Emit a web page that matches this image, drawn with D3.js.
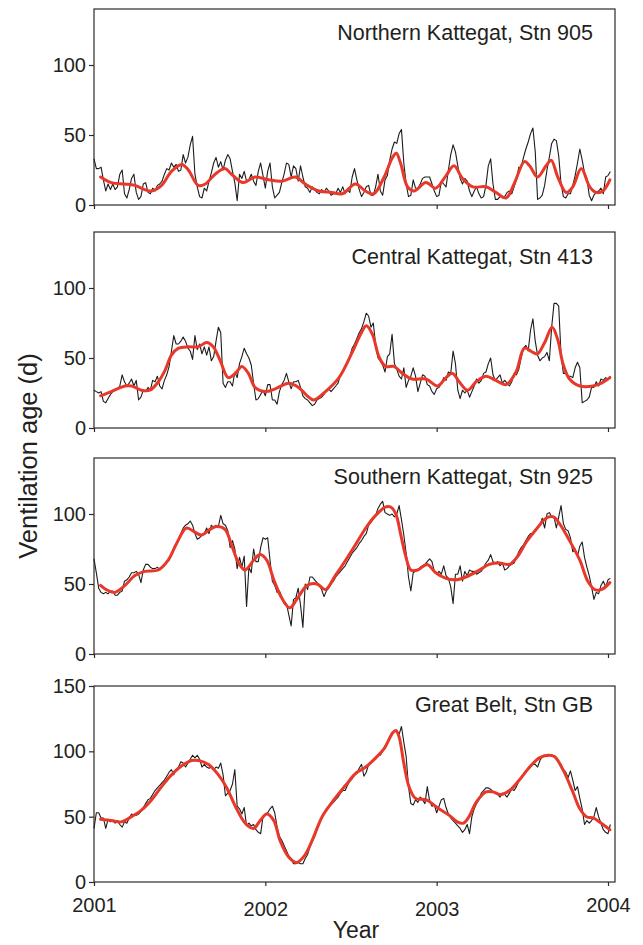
<!DOCTYPE html>
<html>
<head>
<meta charset="utf-8">
<script src="https://cdn.jsdelivr.net/npm/d3@7"></script>
<style>
  body { margin: 0; background: #fff; }
  text { font-family: "Liberation Sans", Arial, Helvetica, sans-serif; fill: #231f20; }
</style>
</head>
<body>
<svg id="chart" width="643" height="945"></svg>
<script>
// station names, one panel each
const stations = [
    "Northern Kattegat, Stn 905",
    "Central Kattegat, Stn 413",
    "Southern Kattegat, Stn 925",
    "Great Belt, Stn GB"
];
const years = [2001, 2002, 2003, 2004];
const yMaxes = [140, 140, 140, 150];
const yTickValues = [[0, 50, 100], [0, 50, 100], [0, 50, 100], [0, 50, 100, 150]];

// ventilation age (d), one value every 5 days from 1 Jan 2001
const sampleStep = 5;
const age905 = [
    33,26,26,27,18,10,15,11,15,11, 13,22,25,8,5,11,19,22,9,4,
    6,15,16,9,8,12,10,14,15,17, 22,26,25,30,27,29,24,25,36,30,
    34,43,49,22,13,6,5,12,10,17, 23,30,34,27,31,25,32,36,33,24,
    16,3,22,19,24,17,18,22,17,14, 24,30,21,12,24,30,13,5,7,9,
    16,22,30,29,20,28,26,17,28,20, 13,12,9,13,11,9,8,11,9,12,
    10,7,8,8,12,9,13,8,11,9, 20,26,18,11,6,9,13,14,7,7,
    13,22,10,7,18,21,32,40,45,44, 51,54,30,15,6,7,18,12,12,15,
    19,20,20,20,15,10,6,7,17,15, 13,25,36,43,38,28,19,15,19,17,
    10,6,10,13,8,5,6,14,28,33, 15,4,4,6,6,6,9,10,8,13,
    18,27,27,34,40,45,51,55,38,4, 5,7,14,25,34,44,47,46,35,15,
    6,5,8,8,14,21,30,40,32,23, 19,7,3,7,9,10,12,8,20,21,24
];
const age413 = [
    27,26,25,26,19,18,21,24,26,27, 28,30,38,33,30,32,35,30,34,20,
    22,27,26,29,27,34,33,37,30,28, 34,38,44,55,66,60,60,62,65,62,
    57,55,49,66,56,60,53,58,52,58, 48,51,62,72,68,32,29,33,33,30,
    40,36,46,51,57,53,50,45,32,20, 21,24,27,23,31,31,20,20,17,26,
    31,34,39,33,28,33,33,34,29,23, 21,20,18,16,17,20,21,22,24,27,
    28,26,28,30,32,38,40,44,47,51, 57,60,64,68,71,76,82,80,72,75,
    59,50,48,45,40,51,53,67,46,42, 37,35,43,29,34,37,43,37,26,32,
    38,37,31,30,26,24,28,29,32,36, 34,40,39,55,46,27,21,27,25,27,
    22,26,30,35,32,34,39,40,46,50, 38,34,36,38,32,34,32,30,33,39,
    38,42,50,57,59,55,70,78,62,52, 48,50,51,54,48,72,89,89,87,52,
    39,39,37,37,36,43,47,43,18,19, 20,22,29,29,33,30,35,34,36,35,37
];
const age925 = [
    68,58,47,44,43,44,43,45,45,42, 42,44,45,52,53,55,58,58,59,57,
    51,60,64,64,62,61,61,62,60,62, 64,66,67,71,76,79,82,86,90,92,
    93,95,92,86,82,83,85,86,90,86, 92,90,92,91,99,93,92,88,76,81,
    75,61,69,62,70,34,62,58,75,66, 66,76,83,82,83,67,52,49,44,45,
    41,36,36,28,20,39,40,47,35,19, 50,46,55,55,53,51,49,46,41,45,
    47,50,52,55,57,59,61,63,66,69, 72,74,76,79,81,84,86,92,94,97,
    99,104,107,109,101,100,99,100,98,100, 106,96,85,72,55,45,58,59,60,62,
    63,64,66,68,66,59,57,59,57,63, 56,54,48,36,57,57,63,52,59,56,
    60,59,59,57,58,59,62,65,67,71, 66,65,66,63,65,60,61,63,64,65,
    69,73,76,78,81,84,86,86,89,91, 92,97,90,100,101,98,98,90,98,106,
    93,89,88,83,73,75,70,77,80,69, 62,56,48,39,44,43,49,52,48,53,54
];
const ageGB = [
    41,53,53,49,49,41,48,46,47,45, 47,44,42,46,45,49,52,51,51,52,
    54,57,60,63,64,67,70,72,74,76, 78,81,84,86,82,86,88,92,91,88,
    91,94,97,95,97,94,88,90,88,87, 88,86,88,87,91,82,66,68,70,75,
    86,58,56,52,57,43,45,43,44,40, 38,37,50,52,53,56,58,53,42,35,
    32,28,24,20,18,14,14,15,14,14, 18,21,27,31,35,40,45,49,52,56,
    58,59,61,63,65,68,70,70,74,77, 79,82,83,87,90,81,84,90,92,93,
    94,97,97,100,104,107,111,114,115,116, 113,119,107,96,73,60,59,63,61,65,
    63,60,73,62,58,59,53,58,63,64, 57,52,49,47,45,43,41,38,40,44,
    37,50,56,60,63,68,70,72,72,71, 69,68,67,65,68,67,65,68,71,70,
    73,77,80,82,85,86,88,90,90,88, 93,96,97,96,97,97,96,94,92,90,
    86,84,80,85,78,70,73,64,56,44, 47,45,47,50,57,50,45,40,38,37,44
];

// smoothed curves: [day since 1 Jan 2001, age]
const smooth905 = [[14,20],[37,16],[66,15],[87,14],[108,11],[123,10],[144,14],[165,24],[187,29],[201,25],
    [222,14],[237,15],[258,22],[279,26],[293,22],[318,16],[343,20],[372,18],[400,17],[429,20],
    [450,15],[479,10],[507,9],[529,8],[557,15],[578,10],[596,8],[618,20],[636,34],[644,37],
    [653,30],[668,13],[682,10],[707,16],[728,12],[750,21],[767,28],[785,19],[807,13],[835,13],
    [856,9],[878,5],[896,16],[917,31],[928,28],[945,20],[963,28],[974,32],[988,20],[1006,9],
    [1020,13],[1038,26],[1056,13],[1070,9],[1084,10],[1099,18]];
const smooth413 = [[14,23],[37,26],[66,30],[80,30],[101,27],[119,27],[137,33],[151,41],[165,52],[180,57],
    [201,58],[222,58],[240,61],[254,58],[269,48],[286,36],[301,39],[315,44],[329,39],[343,29],
    [365,26],[386,28],[415,32],[436,29],[454,23],[468,20],[493,26],[522,36],[550,54],[568,67],
    [580,73],[593,67],[607,51],[621,44],[639,44],[657,39],[678,35],[707,35],[732,30],[750,36],
    [764,39],[778,33],[796,27],[814,33],[835,37],[856,34],[878,31],[899,40],[917,57],[935,54],
    [945,53],[960,61],[976,72],[988,63],[999,46],[1013,35],[1035,30],[1063,30],[1081,32],[1099,36]];
const smooth925 = [[14,49],[26,46],[44,44],[66,49],[87,56],[108,59],[137,60],[158,67],[176,79],[197,90],
    [215,87],[229,85],[247,89],[261,91],[279,89],[294,77],[308,65],[322,60],[340,67],[354,71],
    [368,67],[383,53],[400,40],[417,33],[432,39],[454,49],[475,50],[493,46],[514,56],[536,67],
    [557,78],[579,90],[600,99],[621,105],[632,105],[643,100],[653,86],[664,70],[675,60],[689,60],
    [710,64],[728,58],[750,54],[771,53],[792,55],[821,60],[842,64],[864,65],[885,64],[903,70],
    [921,80],[942,89],[963,97],[978,98],[992,93],[1013,81],[1035,67],[1052,52],[1067,46],[1081,46],[1099,51]];
const smoothGB = [[14,48],[37,47],[58,46],[80,50],[101,55],[123,63],[144,73],[165,82],[187,89],[208,93],
    [222,93],[244,90],[265,82],[283,72],[301,58],[322,45],[340,41],[354,47],[368,52],[383,47],
    [397,31],[415,19],[432,15],[450,21],[465,32],[486,50],[507,61],[536,74],[557,83],[579,88],
    [600,95],[618,102],[636,114],[643,116],[650,111],[660,91],[671,73],[685,64],[707,63],[735,56],
    [757,51],[774,46],[787,45],[799,50],[814,61],[835,69],[849,69],[867,67],[885,70],[906,78],
    [928,88],[949,95],[967,97],[981,96],[999,86],[1020,69],[1035,56],[1049,50],[1063,49],[1077,46],[1099,40]];

const rawSeries = [age905, age413, age925, ageGB];
const smoothSeries = [smooth905, smooth413, smooth925, smoothGB];

// layout
const svg = d3.select("#chart");
const left = 94, boxRight = 615, panelH = 196;
const panelTops = [9, 232, 458, 686];
const titleOffsets = [31, 32, 26, 26];

const start = new Date(Date.UTC(2001, 0, 1));
const dayDate = d => d3.utcDay.offset(start, d);
const yearDates = years.map(yr => new Date(Date.UTC(yr, 0, 1)));

let x = d3.scaleUtc()
          .domain([yearDates[0], yearDates[yearDates.length - 1]])
          .range([left, 608]);

stations.forEach(function(name, k) {
    let top = panelTops[k];
    let y = d3.scaleLinear()
              .domain([0, yMaxes[k]])
              .range([top + panelH, top]);
    let g = svg.append("g").attr("class", "panel");

    // frame
    g.append("rect")
     .attr("x", left).attr("y", top)
     .attr("width", boxRight - left).attr("height", panelH)
     .attr("fill", "none")
     .attr("stroke", "#2b2b2b")
     .attr("stroke-width", 1.2);

    // y axis
    let yAxis = g.append("g")
                 .attr("transform", "translate(" + left + ",0)")
                 .call(d3.axisLeft(y).tickValues(yTickValues[k]).tickSize(5).tickPadding(3));
    yAxis.select(".domain").remove();
    yAxis.selectAll("line").attr("stroke", "#2b2b2b").attr("stroke-width", 1.2);
    yAxis.selectAll("text").attr("font-size", 20).attr("fill", "#231f20")
         .style("font-family", "'Liberation Sans', Arial, sans-serif");

    // x axis, labels only on the bottom panel
    let last = k === stations.length - 1;
    let xAxis = g.append("g")
                 .attr("transform", "translate(0," + (top + panelH) + ")")
                 .call(d3.axisBottom(x).tickValues(yearDates).tickSize(4).tickPadding(12)
                         .tickFormat(last ? d3.utcFormat("%Y") : ""));
    xAxis.select(".domain").remove();
    xAxis.selectAll("line").attr("stroke", "#2b2b2b").attr("stroke-width", 1.2);
    xAxis.selectAll("text").attr("font-size", 20).attr("fill", "#231f20")
         .style("font-family", "'Liberation Sans', Arial, sans-serif")
         .attr("y", (d, i) => (i === 0 || i === years.length - 1) ? 16 : 20);

    // raw series
    let rawLine = d3.line()
                    .x((d, i) => x(dayDate(i * sampleStep)))
                    .y(d => y(d));
    g.append("path")
     .datum(rawSeries[k])
     .attr("d", rawLine)
     .attr("fill", "none")
     .attr("stroke", "#1c1c1c")
     .attr("stroke-width", 1.1)
     .attr("stroke-linejoin", "round");

    // smoothed series
    let smoothLine = d3.line()
                       .curve(d3.curveCatmullRom.alpha(0.5))
                       .x(d => x(dayDate(d[0])))
                       .y(d => y(d[1]));
    g.append("path")
     .datum(smoothSeries[k])
     .attr("d", smoothLine)
     .attr("fill", "none")
     .attr("stroke", "#e8382a")
     .attr("stroke-width", 3)
     .attr("stroke-linecap", "round");

    // station label
    g.append("text")
     .attr("x", 593)
     .attr("y", top + titleOffsets[k])
     .attr("text-anchor", "end")
     .attr("font-size", 21.5)
     .text(name);
});

// axis titles
svg.append("text")
   .attr("transform", "translate(37,456) rotate(-90)")
   .attr("text-anchor", "middle")
   .attr("font-size", 25.5)
   .text("Ventilation age (d)");

svg.append("text")
   .attr("x", 356)
   .attr("y", 938)
   .attr("text-anchor", "middle")
   .attr("font-size", 23)
   .text("Year");
</script>
</body>
</html>
